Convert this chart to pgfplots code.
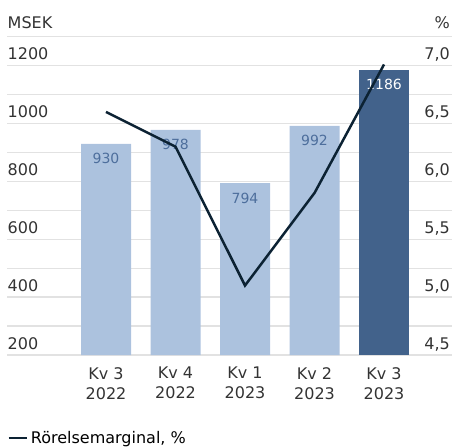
\documentclass[border=0pt]{standalone}
\usepackage{pgfplots}
\pgfplotsset{compat=1.18}
\usepackage{fontspec}
\setmainfont{DejaVu Sans}
\definecolor{lightbar}{HTML}{ACC2DE}
\definecolor{darkbar}{HTML}{42628B}
\definecolor{linecol}{HTML}{0C2233}
\definecolor{gridcol}{HTML}{E2E2E2}
\definecolor{txt}{HTML}{333333}
\definecolor{lbl}{HTML}{4D6E9C}
\begin{document}
\begin{tikzpicture}
\pgfplotsset{
  common/.style={
    scale only axis, width=445pt, height=318.3pt,
    xmin=-1.4245, xmax=4.978,
    axis line style={draw=none}, major tick length=0pt,
    /pgf/number format/assume math mode=true,
    /pgf/number format/1000 sep={},
    tick label style={font=\fontsize{16}{20}\selectfont, text=txt},
  }
}
\begin{axis}[common,
  ymin=200, ymax=1300,
  ytick={200,300,...,1300},
  yticklabels={200,,400,,600,,800,,1000,,1200,},
  ymajorgrids, grid style={draw=gridcol, line width=1.3pt},
  yticklabel style={anchor=base west, inner sep=0pt, xshift=0.5pt, yshift=5.7pt},
  xtick={0,1,2,3,4},
  xticklabels={{Kv 3\\2022},{Kv 4\\2022},{Kv 1\\2023},{Kv 2\\2023},{Kv 3\\2023}},
  xticklabel style={align=center, inner sep=0pt, anchor=north, yshift=-12pt},
  every axis y label/.style={at={(rel axis cs:0,1)}, anchor=base west, inner sep=0pt, xshift=0.5pt, yshift=8.4pt, font=\fontsize{16}{20}\selectfont, text=txt},
  ylabel={MSEK},
  every node near coord/.append style={font=\fontsize{14}{16}\selectfont, anchor=north, inner sep=0pt, yshift=-9.3pt},
]
\addplot[ybar, bar width=50pt, bar shift=0pt, fill=lightbar, draw=none,
  nodes near coords, every node near coord/.append style={text=lbl}]
  coordinates {(0,930) (1,978) (2,794) (3,992)};
\addplot[ybar, bar width=50pt, bar shift=0pt, fill=darkbar, draw=none,
  nodes near coords, every node near coord/.append style={text=white}]
  coordinates {(4,1186)};
\end{axis}
\begin{axis}[common,
  ymin=4.5, ymax=7.25,
  ytick={4.5,5.0,...,7.0},
  yticklabel pos=right,
  yticklabel style={anchor=base east, inner sep=0pt, xshift=-2pt, yshift=5.7pt,
    /pgf/number format/.cd, fixed, fixed zerofill, precision=1, use comma},
  xtick=\empty,
  every axis y label/.style={at={(rel axis cs:1,1)}, anchor=base east, inner sep=0pt, xshift=-2pt, yshift=8.4pt, font=\fontsize{16}{20}\selectfont, text=txt},
  ylabel={\%},
  legend style={at={(0,-0.289)}, anchor=south west, draw=none, fill=none, inner sep=0pt,
    font=\fontsize{16}{20}\selectfont, text=black,
    /tikz/every odd column/.append style={column sep=1pt}},
  legend image code/.code={\draw[#1, line width=2.7pt] (0pt,0pt) -- (18pt,0pt);},
]
\addplot[color=linecol, line width=2.5pt, mark=none]
  coordinates {(0,6.60) (1,6.30) (2,5.10) (3,5.90) (4,7.01)};
\addlegendentry{Rörelsemarginal, \%}
\end{axis}
\pgfresetboundingbox
\path (-7pt,-92pt) rectangle (445pt,355pt);
\end{tikzpicture}
\end{document}
